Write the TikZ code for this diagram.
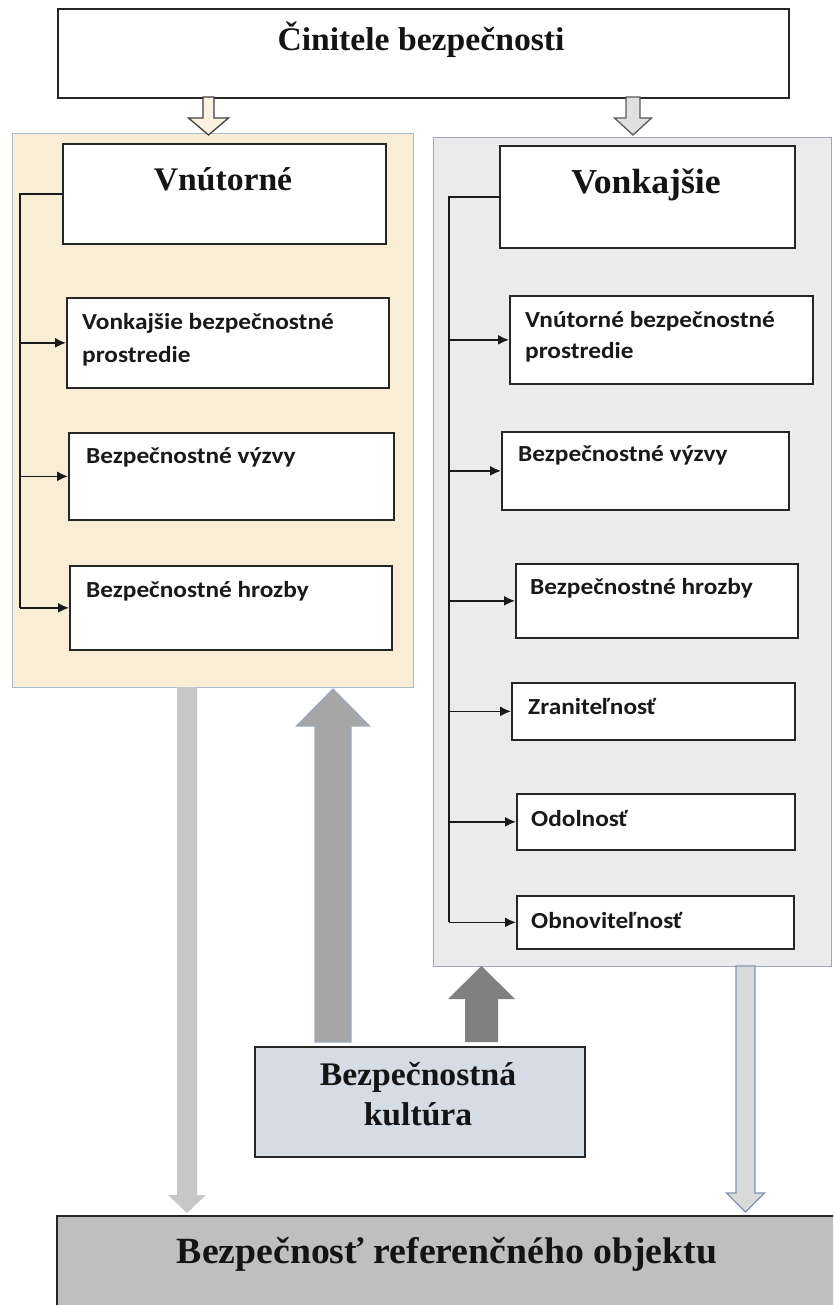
\documentclass[tikz,border=0pt]{standalone}
\usepackage{fontspec}
\usetikzlibrary{arrows.meta}
\newfontfamily\serifb{Liberation Serif}[FakeStretch=1.02]
\newfontfamily\sansb{Carlito}[FakeStretch=1.1]
\definecolor{cream}{HTML}{FAEDD6}
\definecolor{lpborder}{HTML}{A9BCD0}
\definecolor{rpfill}{HTML}{EBEBEB}
\definecolor{rpborder}{HTML}{A0A8B5}
\definecolor{kfill}{HTML}{D6DCE4}
\definecolor{botfill}{HTML}{BFBFBF}
\definecolor{steel}{HTML}{8494B0}
\newcommand{\bx}[6]{\node[#1, minimum width={#4-#2}, minimum height={#5-#3}] (#6) at (#2,#3) {};}
\newcommand{\barr}[7]{\path[#1] ({#2-#5},{#3}) -- ({#2-#5},{#4-(#7)}) -- ({#2-#6},{#4-(#7)}) -- ({#2},{#4}) -- ({#2+#6},{#4-(#7)}) -- ({#2+#5},{#4-(#7)}) -- ({#2+#5},{#3}) -- cycle;}
\tikzset{
  box/.style={draw=black!85, line width=1.7pt, fill=white, inner sep=0pt, anchor=north west},
  panel/.style={line width=1.2pt, inner sep=0pt, anchor=north west},
  stxt/.style={inner sep=0pt, anchor=base west, font=\sansb\bfseries\fontsize{23}{28}\selectfont, text=black!90},
  rtxt/.style={inner sep=0pt, anchor=base, text=black!92},
  conn/.style={draw=black!90, line width=1.6pt},
  tip/.style={conn, -{Latex[length=11pt,width=10pt]}}
}
\begin{document}
\begin{tikzpicture}[x=1pt,y=-1pt]
\clip (0,0) rectangle (833,1305);
\fill[white] (0,0) rectangle (833,1305);
% panels
\bx{panel, fill=cream, draw=lpborder}{12}{133}{413}{687}{lpanel}
\bx{panel, fill=rpfill, draw=rpborder}{433}{137}{831}{966}{rpanel}
% top box
\bx{box}{57}{8}{788}{97}{top}
\node[rtxt, font=\serifb\bfseries\fontsize{33}{38}\selectfont] (toptxt) at (421,51) {Činitele bezpečnosti};
% top block arrows
\barr{fill=cream!70!white, draw=black!75, line width=1.3pt}{208.5}{97}{135}{5.5}{20}{17}
\barr{fill=black!12, draw=black!65, line width=1.3pt}{633}{97}{135}{7}{18.5}{17}
% left side boxes
\bx{box}{62}{143}{385}{243}{vnut}
\node[rtxt, font=\serifb\bfseries\fontsize{33}{38}\selectfont] (vnuttxt) at (223,191) {Vnútorné};
\bx{box}{66}{297}{388}{387}{lb1}
\bx{box}{68}{432}{393}{519}{lb2}
\bx{box}{69}{565}{391}{649}{lb3}
\node[stxt] (lb1a) at (82,329) {Vonkajšie bezpečnostné};
\node[stxt] (lb1b) at (82,362) {prostredie};
\node[stxt] (lb2a) at (86,463) {Bezpečnostné výzvy};
\node[stxt] (lb3a) at (86,597) {Bezpečnostné hrozby};
% right side boxes
\bx{box}{499}{145}{794}{247}{vonk}
\node[rtxt, font=\serifb\bfseries\fontsize{35}{40}\selectfont] (vonktxt) at (646,194) {Vonkajšie};
\bx{box}{509}{295}{812}{383}{rb1}
\bx{box}{501}{431}{788}{509}{rb2}
\bx{box}{515}{563}{797}{637}{rb3}
\bx{box}{511}{682}{794}{739}{rb4}
\bx{box}{516}{793}{794}{849}{rb5}
\bx{box}{516}{895}{793}{948}{rb6}
\node[stxt] (rb1a) at (525,327) {Vnútorné bezpečnostné};
\node[stxt] (rb1b) at (525,358) {prostredie};
\node[stxt] (rb2a) at (518,461) {Bezpečnostné výzvy};
\node[stxt] (rb3a) at (530,594) {Bezpečnostné hrozby};
\node[stxt] (rb4a) at (528,714) {Zraniteľnosť};
\node[stxt] (rb5a) at (531,826) {Odolnosť};
\node[stxt] (rb6a) at (531,928) {Obnoviteľnosť};
% connectors left
\coordinate (sL) at (20,193);
\draw[conn] (vnut.west) -- (vnut.west -| sL) -- (sL |- lb3.west);
\foreach \b in {lb1,lb2,lb3} \draw[tip] (sL |- \b.west) -- (\b.west);
% connectors right
\coordinate (sR) at (449,196);
\draw[conn] (vonk.west) -- (vonk.west -| sR) -- (sR |- rb6.west);
\foreach \b in {rb1,rb2,rb3,rb4,rb5,rb6} \draw[tip] (sR |- \b.west) -- (\b.west);
% culture box
\bx{box, fill=kfill}{254}{1046}{584}{1156}{kult}
\node[rtxt, font=\serifb\bfseries\fontsize{33}{38}\selectfont] (kult1) at (418,1085) {Bezpečnostná};
\node[rtxt, font=\serifb\bfseries\fontsize{33}{38}\selectfont] (kult2) at (418,1125) {kultúra};
% bottom box
\bx{box, fill=botfill}{56}{1215}{845}{1315}{bot}
\node[rtxt, font=\serifb\bfseries\fontsize{37}{42}\selectfont] (bottxt) at (447,1263) {Bezpečnosť referenčného objektu};
% lower block arrows
\barr{fill=black!22}{187}{687}{1213}{10}{19}{18}
\barr{fill=black!35, draw=steel!80, line width=1.2pt}{333}{1042}{689}{18}{36.5}{-37}
\barr{fill=black!50}{481.5}{1042}{966}{16.5}{33.5}{-33}
\barr{fill=black!15, draw=steel, line width=1.3pt}{745.5}{966}{1212}{9.5}{19}{19}
\end{tikzpicture}
\end{document}
